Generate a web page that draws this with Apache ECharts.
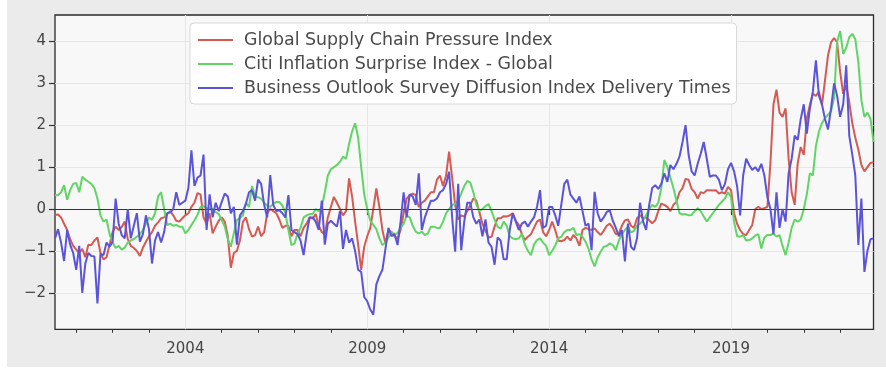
<!DOCTYPE html>
<html>
<head>
<meta charset="utf-8">
<script src="https://cdn.jsdelivr.net/npm/echarts@6/dist/echarts.min.js"></script>
<style>
html,body{margin:0;padding:0;background:#ffffff;}
#panel{position:absolute;left:7px;top:0;width:879px;height:367px;background:#ebebeb;}
#chart{position:absolute;left:0;top:0;width:886px;height:379px;}
</style>
</head>
<body>
<div id="panel"></div>
<div id="chart"></div>
<script>
// Monthly observations, first month June 2000, last month December 2022
const startYear = 2000;
const startMonth = 6;

const seriesNames = [
  'Global Supply Chain Pressure Index',
  'Citi Inflation Surprise Index - Global',
  'Business Outlook Survey Diffusion Index Delivery Times'
];

const gscpi = [
  -0.14,-0.13,-0.2,-0.35,-0.5,-0.72,-0.88,-0.97,-1.05,-0.95,
  -1.15,-0.85,-0.86,-0.75,-0.68,-1.05,-1.2,-1.15,-0.85,-0.55,
  -0.42,-0.5,-0.43,-0.3,-0.72,-0.88,-0.93,-1.0,-1.12,-0.92,
  -0.78,-0.65,-0.55,-0.4,-0.32,-0.22,-0.2,-0.12,
  -0.05,-0.15,-0.28,-0.3,-0.22,-0.15,-0.1,0.05,0.15,0.38,
  0.35,-0.2,-0.35,-0.1,-0.58,-0.42,-0.28,-0.2,-0.3,-0.65,
  -1.4,-1.05,-1.0,-0.75,-0.3,-0.2,-0.48,-0.66,-0.62,-0.42,
  -0.65,-0.55,-0.1,0.0,-0.05,-0.1,-0.25,-0.45,
  -0.4,-0.4,-0.65,-0.5,-0.5,-0.65,-0.45,-0.35,-0.2,-0.23,
  -0.12,-0.4,-0.55,-0.6,-0.2,0.05,0.29,0.15,0.0,-0.15,
  -0.05,0.73,0.3,-0.3,-0.85,-1.45,-0.9,-0.65,-0.45,0.0,
  0.49,0.05,-0.5,-0.82,-0.5,-0.55,-0.65,
  -0.7,-0.5,-0.1,0.25,0.33,0.37,0.33,0.05,0.15,0.2,
  0.3,0.4,0.4,0.7,0.8,0.55,0.8,1.37,0.75,0.1,
  -0.25,-0.15,-0.18,-0.05,0.1,0.25,0.2,-0.08,-0.35,-0.52,
  -0.68,-0.66,-0.42,-0.22,-0.22,-0.17,-0.18,-0.15,
  -0.1,-0.28,-0.38,-0.6,-0.74,-0.66,-0.6,-0.45,-0.3,-0.25,
  -0.55,-0.65,-0.5,-0.3,-0.5,-0.75,-0.77,-0.74,-0.66,-0.75,
  -0.62,-0.7,-0.88,-0.5,-0.45,-0.48,-0.5,-0.46,-0.55,-0.62,
  -0.52,-0.4,-0.35,-0.45,-0.6,-0.58,-0.4,-0.27,-0.25,
  -0.4,-0.45,-0.22,-0.15,-0.22,-0.2,-0.27,-0.34,-0.27,-0.05,
  0.13,0.1,0.05,-0.05,0.1,0.17,0.4,0.5,0.72,0.7,
  0.48,0.4,0.25,0.4,0.38,0.45,0.45,0.44,0.45,0.37,
  0.4,0.37,0.53,0.45,-0.1,-0.35,
  -0.5,-0.6,-0.62,-0.5,-0.38,0.0,0.05,0.0,0.02,0.05,
  1.1,2.5,2.85,2.3,2.2,2.4,1.2,0.4,0.1,1.1,
  1.48,1.29,2.16,2.48,2.75,2.7,2.8,2.48,3.07,3.67,
  3.98,4.08,3.98,3.27,2.75,2.95,2.55,2.05,1.7,1.42,
  1.05,0.9,1.0,1.1,1.12
];

const citi = [
  0.33,0.33,0.4,0.57,0.22,0.45,0.6,0.62,0.4,0.77,
  0.7,0.65,0.6,0.5,0.25,-0.15,-0.3,-0.25,-0.6,-0.8,
  -0.93,-0.88,-0.97,-0.92,-0.8,-0.75,-0.72,-0.66,-0.6,-0.5,
  -0.35,-0.2,-0.26,-0.1,0.3,0.4,0.0,-0.38,
  -0.35,-0.4,-0.38,-0.42,-0.42,-0.58,-0.5,-0.38,-0.27,-0.14,
  0.05,0.07,0.02,0.02,0.0,-0.07,-0.12,-0.27,-0.42,-0.72,
  -0.9,-0.58,-0.26,-0.22,-0.15,0.15,0.05,0.55,0.3,0.28,
  0.25,0.15,0.08,0.05,0.12,0.17,0.17,0.08,
  -0.1,-0.5,-0.86,-0.82,-0.6,-0.45,-0.2,-0.15,-0.12,-0.12,
  0.0,-0.05,0.05,0.4,0.8,0.95,1.0,1.05,1.13,1.25,
  1.2,1.55,1.85,2.05,1.7,1.0,0.35,0.0,-0.28,-0.38,
  -0.48,-0.7,-0.86,-0.8,-0.68,-0.55,-0.6,
  -0.58,-0.45,-0.35,-0.15,-0.2,-0.4,-0.54,-0.58,-0.54,-0.62,
  -0.58,-0.42,-0.42,-0.45,-0.45,-0.3,-0.1,0.0,0.1,0.13,
  0.2,0.37,0.55,0.67,0.63,0.4,0.1,-0.05,0.0,0.07,
  0.12,-0.05,-0.25,-0.42,-0.47,-0.3,-0.4,-0.65,
  -0.7,-0.72,-0.7,-0.6,-0.85,-1.0,-1.1,-0.85,-0.74,-0.7,
  -0.8,-0.88,-1.1,-1.0,-0.87,-0.7,-0.66,-0.55,-0.5,-0.5,
  -0.45,-0.62,-0.6,-0.66,-0.78,-0.95,-1.2,-1.37,-1.15,-1.02,
  -0.9,-0.88,-0.82,-0.86,-0.98,-0.75,-0.6,-0.5,-0.42,
  -0.56,-0.52,-0.4,-0.35,-0.27,-0.15,0.0,0.1,0.05,0.15,
  0.5,1.17,1.0,0.75,0.5,0.2,-0.1,-0.13,-0.12,-0.15,
  -0.14,-0.05,0.02,-0.05,-0.18,-0.3,-0.2,-0.1,0.0,0.1,
  0.18,0.25,0.4,0.28,-0.3,-0.65,
  -0.66,-0.62,-0.75,-0.74,-0.7,-0.63,-0.6,-0.94,-0.68,-0.62,
  -0.62,-0.58,-0.66,-0.62,-0.88,-1.1,-0.8,-0.45,-0.25,-0.3,
  -0.25,0.0,0.35,0.85,0.8,1.5,1.85,2.05,2.17,2.25,
  2.33,2.65,4.0,4.25,3.7,3.85,4.1,4.18,4.05,3.5,
  2.6,2.2,2.3,2.15,1.6
];

const bos = [
  -0.7,-0.48,-0.8,-1.24,-0.5,-0.85,-1.05,-1.45,-0.88,-2.0,
  -1.3,-1.05,-1.12,-1.13,-2.25,-1.07,-1.1,-0.8,-0.9,-0.78,
  0.25,-0.35,-0.62,-0.7,0.0,-0.7,-0.4,-0.1,-0.78,-0.6,
  -0.15,-0.48,-1.3,-0.75,-0.55,-0.8,-0.55,-0.1,
  -0.08,0.0,0.4,0.1,0.15,0.2,0.5,1.4,0.55,0.75,
  0.8,1.3,-0.5,0.35,-0.2,0.15,-0.05,0.17,0.37,0.3,
  -0.1,0.05,-0.85,-0.15,-0.05,0.13,0.4,0.45,0.2,0.7,
  0.6,0.1,-0.2,0.81,0.1,-0.05,-0.03,-0.1,
  -0.2,0.33,-0.5,-0.55,-0.6,-0.75,-1.1,-0.6,-0.2,-0.2,
  -0.3,-0.5,0.2,-0.85,-0.35,-0.28,-0.35,-0.42,-0.05,-0.95,
  -0.5,-0.8,-0.7,-1.0,-1.45,-1.5,-2.1,-2.2,-2.4,-2.52,
  -1.8,-1.6,-1.45,-0.95,-0.45,-0.65,-0.6,
  -0.86,-0.3,0.4,-0.2,0.35,0.3,0.1,0.85,-0.5,-0.2,
  0.0,0.2,0.2,0.25,0.4,0.45,0.6,0.89,-0.2,-1.02,
  0.6,-0.98,-0.3,0.15,0.15,-0.2,-0.35,-0.25,-0.65,-0.25,
  -0.8,-0.9,-1.33,-0.68,-0.75,-1.2,-1.2,-0.5,
  -0.1,-0.3,-0.5,-0.35,-0.3,-0.42,-0.3,-0.2,0.05,0.45,
  -0.45,-0.4,0.05,0.05,-0.15,-0.4,0.1,0.6,0.7,0.35,
  0.25,0.15,0.3,-0.05,-0.4,-0.35,-0.98,0.41,-0.1,-0.3,
  -0.2,-0.07,-0.03,-0.28,-0.45,-0.65,-0.5,-1.25,-0.35,
  -0.9,-0.98,-0.7,0.15,-0.3,-0.5,0.1,0.5,0.57,0.48,
  0.6,0.85,0.65,1.05,0.95,1.08,1.25,1.6,2.0,1.3,
  0.9,0.8,1.08,1.32,1.6,1.2,0.77,0.8,0.8,0.7,
  0.45,0.6,0.95,1.1,0.9,0.55,
  -0.15,0.8,1.2,1.05,0.93,1.0,0.9,1.08,0.8,0.28,
  0.0,-0.6,0.4,-0.45,0.0,-0.3,0.85,1.2,1.75,1.65,
  2.15,2.5,1.8,2.4,2.8,3.55,2.7,2.5,2.15,1.9,
  2.4,3.0,2.7,2.2,2.5,3.43,1.75,1.3,0.8,-0.86,
  0.25,-1.5,-1.0,-0.72,-0.7
];

const xMajorTicks = [2004, 2009, 2014, 2019];
const xMinorTicks = [2001,2002,2003,2005,2006,2007,2008,2010,2011,2012,2013,2015,2016,2017,2018,2020,2021,2022];
const yTicks = [-2, -1, 0, 1, 2, 3, 4];

const colors = ['#d45a52', '#60d465', '#5b53d8'];

function toPairs(arr) {
  return arr.map((v, i) => [startYear + (startMonth - 1 + i) / 12, v]);
}

const xMin = startYear + (startMonth - 1) / 12;
const xMax = startYear + (startMonth - 1 + gscpi.length - 1) / 12;

const font = 'DejaVu Sans';
const chart = echarts.init(document.getElementById('chart'), null, {renderer: 'canvas'});

const lineSeries = [gscpi, citi, bos].map((arr, k) => ({
  name: seriesNames[k],
  type: 'line',
  xAxisIndex: 0,
  yAxisIndex: 0,
  data: toPairs(arr),
  showSymbol: false,
  symbol: 'none',
  smooth: false,
  lineStyle: {color: colors[k], width: 2},
  itemStyle: {color: colors[k]},
  z: 3 + k,
  animation: false
}));

lineSeries[0].markLine = {
  silent: true,
  symbol: 'none',
  label: {show: false},
  lineStyle: {color: '#333333', width: 1, type: 'solid'},
  data: [{yAxis: 0}],
  animation: false
};

chart.setOption({
  backgroundColor: 'transparent',
  animation: false,
  grid: {
    left: 55, right: 12.5, top: 15, bottom: 49.7,
    show: true,
    backgroundColor: '#f8f8f8',
    borderColor: '#2a2a2a',
    borderWidth: 1.3
  },
  legend: {
    data: seriesNames,
    orient: 'vertical',
    left: 190,
    top: 23,
    backgroundColor: '#ffffff',
    borderColor: '#d8d8d8',
    borderWidth: 1,
    borderRadius: 4,
    padding: [7, 6, 6, 8],
    itemGap: 4,
    itemWidth: 35,
    itemHeight: 14,
    icon: 'path://M0,6 L35,6 L35,8 L0,8 Z',
    textStyle: {fontFamily: font, fontSize: 17.4, color: '#4a4a4a', lineHeight: 20, padding: [0, 0, 0, 6]}
  },
  xAxis: [
    {
      type: 'value',
      min: xMin,
      max: xMax,
      position: 'bottom',
      axisLine: {show: false},
      axisTick: {show: true, length: 6, customValues: xMajorTicks, lineStyle: {color: '#333', width: 1.2}},
      axisLabel: {customValues: xMajorTicks, fontFamily: font, fontSize: 15, color: '#444', margin: 12,
        formatter: v => String(Math.round(v))},
      splitLine: {show: true, lineStyle: {color: '#e6e6e6', width: 1}}
    },
    {
      type: 'value',
      min: xMin,
      max: xMax,
      position: 'bottom',
      axisLine: {show: false},
      axisTick: {show: true, length: 3.5, customValues: xMinorTicks, lineStyle: {color: '#333', width: 1}},
      axisLabel: {show: false},
      splitLine: {show: false}
    }
  ],
  yAxis: {
    type: 'value',
    min: -2.87,
    max: 4.63,
    axisLine: {show: false},
    axisTick: {show: true, length: 6, customValues: yTicks, lineStyle: {color: '#333', width: 1.2}},
    axisLabel: {
      customValues: yTicks,
      fontFamily: font, fontSize: 15, color: '#444', margin: 9,
      formatter: v => (v < 0 ? '\u2212' + Math.abs(v) : String(v))
    },
    splitLine: {show: true, lineStyle: {color: '#e6e6e6', width: 1}}
  },
  series: lineSeries
});
</script>
</body>
</html>
